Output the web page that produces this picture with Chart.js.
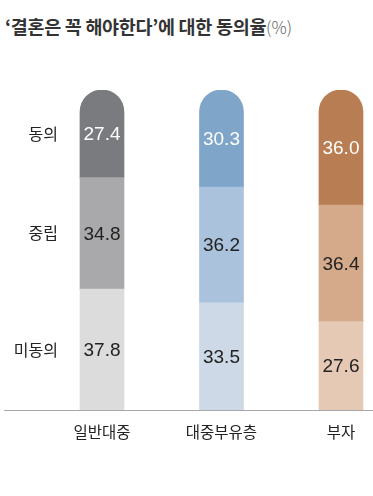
<!DOCTYPE html>
<html>
<head>
<meta charset="utf-8">
<script src="https://cdn.jsdelivr.net/npm/chart.js@4.4.1/dist/chart.umd.min.js"></script>
<style>
  html, body { margin: 0; padding: 0; background: #fff; }
  #wrap { position: relative; width: 373px; height: 496px; }
  #title {
    position: absolute; left: 5px; top: 14px; margin: 0; white-space: nowrap;
    font-family: "Noto Sans CJK KR", sans-serif; font-weight: 700;
    font-size: 18.5px; line-height: 24px; color: #333; letter-spacing: -0.3px;
  }
  #title span { font-weight: 300; color: #666; font-size: 17px; letter-spacing: 0; }
  canvas { position: absolute; left: 0; top: 0; }
</style>
</head>
<body>
<div id="wrap">
  <h1 id="title">‘결혼은 꼭 해야한다’에 대한 동의율<span>(%)</span></h1>
  <canvas id="chart" width="373" height="496"></canvas>
</div>
<script>
// 데이터
const categories = ['일반대중', '대중부유층', '부자'];
const rowLabels = ['미동의', '중립', '동의'];
const disagree = [37.8, 33.5, 27.6];
const neutral = [34.8, 36.2, 36.4];
const agree = [27.4, 30.3, 36.0];

// 색상 (카테고리별)
const agreeColors = ['#7a7b7f', '#7fa5c9', '#b97d53'];
const neutralColors = ['#a9a9ac', '#abc2dd', '#d4aa8b'];
const disagreeColors = ['#dcdcdd', '#cdd9e7', '#e6c9b4'];

const font = '"Liberation Sans", "Noto Sans CJK KR", sans-serif';

function points(values) {
    return values.map((v, i) => ({ x: i + 1, y: v }));
}

// 값 라벨 + 왼쪽 행 라벨
const labelPlugin = {
    id: 'labels',
    afterDatasetsDraw(chart) {
        const ctx = chart.ctx;
        ctx.save();
        ctx.textAlign = 'center';
        ctx.textBaseline = 'middle';
        ctx.font = '19px ' + font;
        chart.data.datasets.forEach((ds, di) => {
            const meta = chart.getDatasetMeta(di);
            meta.data.forEach((bar, i) => {
                const cy = (bar.y + bar.base) / 2;
                ctx.fillStyle = di === 2 ? '#ffffff' : '#222222';
                ctx.fillText(ds.data[i].y.toFixed(1), bar.x, cy + 1);
            });
            // 첫 번째 막대 옆에 행 라벨
            const first = meta.data[0];
            ctx.save();
            ctx.textAlign = 'right';
            ctx.fillStyle = '#222222';
            ctx.font = '16px "Noto Sans CJK KR", sans-serif';
            ctx.fillText(rowLabels[di], 58, (first.y + first.base) / 2);
            ctx.restore();
        });
        ctx.restore();
    }
};

const ctx = document.getElementById('chart').getContext('2d');

new Chart(ctx, {
    type: 'bar',
    data: {
        datasets: [
            { label: rowLabels[0], data: points(disagree), backgroundColor: disagreeColors },
            { label: rowLabels[1], data: points(neutral), backgroundColor: neutralColors },
            {
                label: rowLabels[2], data: points(agree), backgroundColor: agreeColors,
                borderRadius: { topLeft: 22, topRight: 22, bottomLeft: 0, bottomRight: 0 },
                borderSkipped: 'start'
            }
        ]
    },
    options: {
        responsive: false,
        animation: false,
        layout: { padding: { top: 90, left: 4, right: 0, bottom: 0 } },
        datasets: { bar: { barThickness: 44 } },
        plugins: {
            legend: { display: false },
            title: { display: false },
            tooltip: { enabled: false }
        },
        scales: {
            x: {
                type: 'linear',
                stacked: true,
                offset: false,
                min: 0.18,
                max: 3.268,
                grid: { display: false, drawTicks: false },
                border: { display: true, color: '#a9a9a9', width: 1 },
                afterBuildTicks: scale => {
                    scale.ticks = categories.map((c, i) => ({ value: i + 1 }));
                },
                afterFit: scale => { scale.height = 86; },
                ticks: {
                    padding: 13,
                    color: '#222',
                    font: { family: '"Noto Sans CJK KR", sans-serif', size: 15.5 },
                    callback: v => categories[v - 1]
                }
            },
            y: {
                stacked: true,
                min: 0,
                max: 100,
                display: false
            }
        }
    },
    plugins: [labelPlugin]
});
</script>
</body>
</html>
